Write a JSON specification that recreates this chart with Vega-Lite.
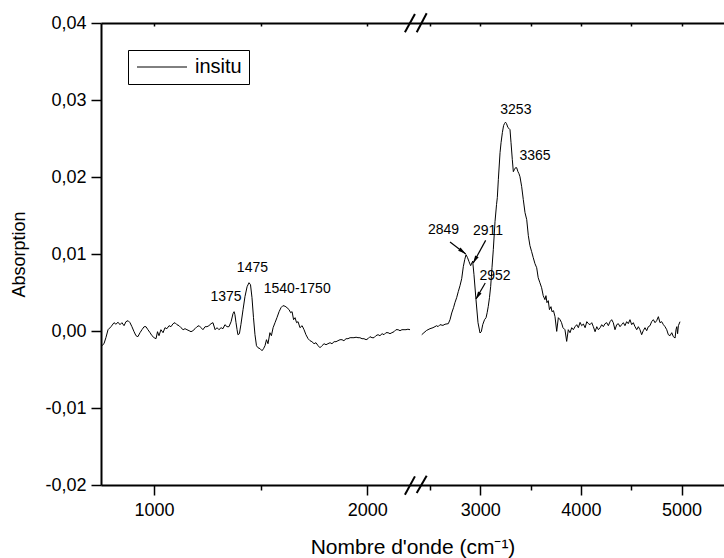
{
  "$schema": "https://vega.github.io/schema/vega-lite/v6.json",
  "width": 623,
  "height": 462,
  "autosize": {"type": "none"},
  "padding": {"left": 101, "top": 23, "right": 0, "bottom": 73},
  "config": {
    "font": "Liberation Sans",
    "view": {"stroke": null},
    "legend": {
      "orient": "none", "legendX": 27, "legendY": 27,
      "strokeColor": "black", "fillColor": "white", "padding": 7,
      "symbolType": "M-5,0L5,0", "symbolSize": 100, "symbolStrokeWidth": 1,
      "symbolStrokeColor": "black", "symbolFillColor": "transparent", "symbolOffset": 17,
      "labelFontSize": 20, "labelFont": "Liberation Sans", "labelColor": "black", "labelOffset": 23
    }
  },
  "datasets": {
    "spec": [
      {"seg":"L","wn":754,"abs":-0.00197},{"seg":"L","wn":766,"abs":-0.00165},{"seg":"L","wn":775,"abs":-0.00087},{"seg":"L","wn":785,"abs":0.00017},{"seg":"L","wn":799,"abs":0.00056},{"seg":"L","wn":813,"abs":0.00108},{"seg":"L","wn":822,"abs":0.00088},{"seg":"L","wn":832,"abs":0.00114},{"seg":"L","wn":841,"abs":0.00082},{"seg":"L","wn":850,"abs":0.00108},{"seg":"L","wn":860,"abs":0.00069},{"seg":"L","wn":869,"abs":0.00121},{"seg":"L","wn":879,"abs":0.00134},{"seg":"L","wn":888,"abs":0.00108},{"seg":"L","wn":897,"abs":0.00056},{"seg":"L","wn":907,"abs":-0.00009},{"seg":"L","wn":916,"abs":-0.00061},{"seg":"L","wn":925,"abs":-0.00074},{"seg":"L","wn":935,"abs":-0.00022},{"seg":"L","wn":944,"abs":0.00017},{"seg":"L","wn":954,"abs":0.00056},{"seg":"L","wn":963,"abs":0.00056},{"seg":"L","wn":972,"abs":0.00017},{"seg":"L","wn":982,"abs":-0.00022},{"seg":"L","wn":991,"abs":-0.00061},{"seg":"L","wn":1001,"abs":-0.00087},{"seg":"L","wn":1010,"abs":-0.001},{"seg":"L","wn":1017,"abs":-0.00009},{"seg":"L","wn":1024,"abs":-0.00061},{"seg":"L","wn":1033,"abs":0.00017},{"seg":"L","wn":1043,"abs":-0.00022},{"seg":"L","wn":1052,"abs":0.00043},{"seg":"L","wn":1061,"abs":0.0003},{"seg":"L","wn":1071,"abs":0.00069},{"seg":"L","wn":1080,"abs":0.00056},{"seg":"L","wn":1090,"abs":0.00095},{"seg":"L","wn":1099,"abs":0.00108},{"seg":"L","wn":1108,"abs":0.00082},{"seg":"L","wn":1118,"abs":0.00069},{"seg":"L","wn":1127,"abs":0.00043},{"seg":"L","wn":1137,"abs":0.00017},{"seg":"L","wn":1146,"abs":0.0003},{"seg":"L","wn":1155,"abs":0.00017},{"seg":"L","wn":1165,"abs":0.00004},{"seg":"L","wn":1174,"abs":-0.00009},{"seg":"L","wn":1183,"abs":0.00004},{"seg":"L","wn":1193,"abs":0.0003},{"seg":"L","wn":1202,"abs":0.00056},{"seg":"L","wn":1212,"abs":0.00069},{"seg":"L","wn":1221,"abs":0.00043},{"seg":"L","wn":1230,"abs":0.00017},{"seg":"L","wn":1240,"abs":0.00056},{"seg":"L","wn":1249,"abs":0.00056},{"seg":"L","wn":1258,"abs":0.00069},{"seg":"L","wn":1268,"abs":0.00095},{"seg":"L","wn":1277,"abs":0.00108},{"seg":"L","wn":1287,"abs":0.00017},{"seg":"L","wn":1296,"abs":0.00043},{"seg":"L","wn":1305,"abs":0.00017},{"seg":"L","wn":1315,"abs":0.00043},{"seg":"L","wn":1324,"abs":0.0003},{"seg":"L","wn":1333,"abs":0.00082},{"seg":"L","wn":1343,"abs":0.00056},{"seg":"L","wn":1352,"abs":0.00056},{"seg":"L","wn":1362,"abs":0.00121},{"seg":"L","wn":1371,"abs":0.00225},{"seg":"L","wn":1376,"abs":0.00251},{"seg":"L","wn":1380,"abs":0.00212},{"seg":"L","wn":1385,"abs":0.00108},{"seg":"L","wn":1390,"abs":0.00017},{"seg":"L","wn":1394,"abs":-0.00048},{"seg":"L","wn":1401,"abs":-0.00035},{"seg":"L","wn":1408,"abs":0.00082},{"seg":"L","wn":1418,"abs":0.00277},{"seg":"L","wn":1427,"abs":0.00446},{"seg":"L","wn":1437,"abs":0.00575},{"seg":"L","wn":1446,"abs":0.00627},{"seg":"L","wn":1453,"abs":0.00601},{"seg":"L","wn":1460,"abs":0.00433},{"seg":"L","wn":1467,"abs":0.00173},{"seg":"L","wn":1474,"abs":-0.00048},{"seg":"L","wn":1481,"abs":-0.00191},{"seg":"L","wn":1488,"abs":-0.00217},{"seg":"L","wn":1498,"abs":-0.0023},{"seg":"L","wn":1507,"abs":-0.00256},{"seg":"L","wn":1514,"abs":-0.0023},{"seg":"L","wn":1521,"abs":-0.00191},{"seg":"L","wn":1528,"abs":-0.00113},{"seg":"L","wn":1535,"abs":-0.00165},{"seg":"L","wn":1544,"abs":-0.00022},{"seg":"L","wn":1551,"abs":-0.00061},{"seg":"L","wn":1559,"abs":0.00043},{"seg":"L","wn":1568,"abs":0.00108},{"seg":"L","wn":1577,"abs":0.00173},{"seg":"L","wn":1587,"abs":0.00251},{"seg":"L","wn":1596,"abs":0.00303},{"seg":"L","wn":1605,"abs":0.00329},{"seg":"L","wn":1615,"abs":0.00322},{"seg":"L","wn":1624,"abs":0.00303},{"seg":"L","wn":1634,"abs":0.00277},{"seg":"L","wn":1641,"abs":0.00238},{"seg":"L","wn":1648,"abs":0.00251},{"seg":"L","wn":1655,"abs":0.00147},{"seg":"L","wn":1662,"abs":0.00173},{"seg":"L","wn":1669,"abs":0.00108},{"seg":"L","wn":1676,"abs":0.00121},{"seg":"L","wn":1685,"abs":0.00043},{"seg":"L","wn":1695,"abs":0.00069},{"seg":"L","wn":1704,"abs":0.00017},{"seg":"L","wn":1713,"abs":-0.00048},{"seg":"L","wn":1723,"abs":-0.001},{"seg":"L","wn":1732,"abs":-0.00126},{"seg":"L","wn":1741,"abs":-0.00139},{"seg":"L","wn":1751,"abs":-0.00165},{"seg":"L","wn":1760,"abs":-0.00152},{"seg":"L","wn":1770,"abs":-0.00191},{"seg":"L","wn":1779,"abs":-0.00217},{"seg":"L","wn":1788,"abs":-0.00191},{"seg":"L","wn":1798,"abs":-0.00165},{"seg":"L","wn":1807,"abs":-0.00178},{"seg":"L","wn":1816,"abs":-0.00165},{"seg":"L","wn":1826,"abs":-0.00152},{"seg":"L","wn":1835,"abs":-0.00165},{"seg":"L","wn":1845,"abs":-0.00139},{"seg":"L","wn":1854,"abs":-0.00139},{"seg":"L","wn":1863,"abs":-0.00126},{"seg":"L","wn":1873,"abs":-0.00113},{"seg":"L","wn":1882,"abs":-0.00113},{"seg":"L","wn":1891,"abs":-0.00126},{"seg":"L","wn":1901,"abs":-0.001},{"seg":"L","wn":1910,"abs":-0.001},{"seg":"L","wn":1920,"abs":-0.00087},{"seg":"L","wn":1929,"abs":-0.00087},{"seg":"L","wn":1938,"abs":-0.00087},{"seg":"L","wn":1948,"abs":-0.00081},{"seg":"L","wn":1957,"abs":-0.00087},{"seg":"L","wn":1966,"abs":-0.00087},{"seg":"L","wn":1976,"abs":-0.001},{"seg":"L","wn":1985,"abs":-0.001},{"seg":"L","wn":1995,"abs":-0.00113},{"seg":"L","wn":2004,"abs":-0.001},{"seg":"L","wn":2013,"abs":-0.00074},{"seg":"L","wn":2023,"abs":-0.00087},{"seg":"L","wn":2032,"abs":-0.00087},{"seg":"L","wn":2041,"abs":-0.00061},{"seg":"L","wn":2051,"abs":-0.00048},{"seg":"L","wn":2060,"abs":-0.00061},{"seg":"L","wn":2070,"abs":-0.00035},{"seg":"L","wn":2079,"abs":-0.00048},{"seg":"L","wn":2088,"abs":-0.00022},{"seg":"L","wn":2098,"abs":-0.00022},{"seg":"L","wn":2107,"abs":-0.00035},{"seg":"L","wn":2116,"abs":-0.00022},{"seg":"L","wn":2126,"abs":-0.00009},{"seg":"L","wn":2135,"abs":0.00017},{"seg":"L","wn":2145,"abs":0.00017},{"seg":"L","wn":2154,"abs":0.00004},{"seg":"L","wn":2163,"abs":0.00017},{"seg":"L","wn":2173,"abs":0.00017},{"seg":"L","wn":2182,"abs":0.00017},{"seg":"L","wn":2191,"abs":0.00023},{"seg":"L","wn":2201,"abs":0.00017},
      {"seg":"R","wn":2419,"abs":-0.00048},{"seg":"R","wn":2441,"abs":-0.00022},{"seg":"R","wn":2468,"abs":0.00008},{"seg":"R","wn":2501,"abs":0.0003},{"seg":"R","wn":2531,"abs":0.00043},{"seg":"R","wn":2568,"abs":0.00069},{"seg":"R","wn":2581,"abs":0.00056},{"seg":"R","wn":2600,"abs":0.00082},{"seg":"R","wn":2630,"abs":0.00073},{"seg":"R","wn":2650,"abs":0.00088},{"seg":"R","wn":2683,"abs":0.00095},{"seg":"R","wn":2700,"abs":0.00147},{"seg":"R","wn":2717,"abs":0.00234},{"seg":"R","wn":2735,"abs":0.00303},{"seg":"R","wn":2749,"abs":0.00368},{"seg":"R","wn":2766,"abs":0.00433},{"seg":"R","wn":2782,"abs":0.00511},{"seg":"R","wn":2799,"abs":0.00588},{"seg":"R","wn":2816,"abs":0.00679},{"seg":"R","wn":2832,"abs":0.00835},{"seg":"R","wn":2846,"abs":0.00926},{"seg":"R","wn":2859,"abs":0.00991},{"seg":"R","wn":2874,"abs":0.00952},{"seg":"R","wn":2889,"abs":0.009},{"seg":"R","wn":2905,"abs":0.00848},{"seg":"R","wn":2925,"abs":0.00907},{"seg":"R","wn":2938,"abs":0.00731},{"seg":"R","wn":2958,"abs":0.00407},{"seg":"R","wn":2978,"abs":0.00108},{"seg":"R","wn":2998,"abs":-0.00026},{"seg":"R","wn":3011,"abs":-0.00009},{"seg":"R","wn":3025,"abs":0.00082},{"seg":"R","wn":3043,"abs":0.00147},{"seg":"R","wn":3058,"abs":0.00173},{"seg":"R","wn":3069,"abs":0.00238},{"seg":"R","wn":3080,"abs":0.0032},{"seg":"R","wn":3092,"abs":0.00433},{"seg":"R","wn":3104,"abs":0.00579},{"seg":"R","wn":3117,"abs":0.00822},{"seg":"R","wn":3130,"abs":0.01056},{"seg":"R","wn":3147,"abs":0.0142},{"seg":"R","wn":3162,"abs":0.01641},{"seg":"R","wn":3170,"abs":0.01732},{"seg":"R","wn":3180,"abs":0.01965},{"seg":"R","wn":3197,"abs":0.02316},{"seg":"R","wn":3207,"abs":0.02446},{"seg":"R","wn":3220,"abs":0.02576},{"seg":"R","wn":3232,"abs":0.02667},{"seg":"R","wn":3241,"abs":0.02693},{"seg":"R","wn":3251,"abs":0.02712},{"seg":"R","wn":3261,"abs":0.02693},{"seg":"R","wn":3276,"abs":0.02641},{"seg":"R","wn":3296,"abs":0.02615},{"seg":"R","wn":3306,"abs":0.02446},{"seg":"R","wn":3319,"abs":0.02225},{"seg":"R","wn":3329,"abs":0.02069},{"seg":"R","wn":3339,"abs":0.02095},{"seg":"R","wn":3351,"abs":0.02121},{"seg":"R","wn":3362,"abs":0.02121},{"seg":"R","wn":3375,"abs":0.02069},{"seg":"R","wn":3385,"abs":0.02043},{"seg":"R","wn":3395,"abs":0.02004},{"seg":"R","wn":3412,"abs":0.01874},{"seg":"R","wn":3428,"abs":0.01706},{"seg":"R","wn":3445,"abs":0.01537},{"seg":"R","wn":3462,"abs":0.01446},{"seg":"R","wn":3478,"abs":0.01238},{"seg":"R","wn":3494,"abs":0.01108},{"seg":"R","wn":3511,"abs":0.0103},{"seg":"R","wn":3527,"abs":0.00952},{"seg":"R","wn":3544,"abs":0.00874},{"seg":"R","wn":3561,"abs":0.00822},{"seg":"R","wn":3576,"abs":0.00692},{"seg":"R","wn":3593,"abs":0.00627},{"seg":"R","wn":3610,"abs":0.00562},{"seg":"R","wn":3626,"abs":0.00459},{"seg":"R","wn":3643,"abs":0.00407},{"seg":"R","wn":3653,"abs":0.00459},{"seg":"R","wn":3663,"abs":0.00368},{"seg":"R","wn":3676,"abs":0.00394},{"seg":"R","wn":3688,"abs":0.00277},{"seg":"R","wn":3703,"abs":0.00316},{"seg":"R","wn":3713,"abs":0.00251},{"seg":"R","wn":3728,"abs":0.00264},{"seg":"R","wn":3743,"abs":0.00186},{"seg":"R","wn":3760,"abs":-0.00005},{"seg":"R","wn":3776,"abs":0.00173},{"seg":"R","wn":3793,"abs":0.00147},{"seg":"R","wn":3808,"abs":0.00108},{"seg":"R","wn":3822,"abs":0.00043},{"seg":"R","wn":3842,"abs":0.00017},{"seg":"R","wn":3859,"abs":-0.00135},{"seg":"R","wn":3875,"abs":0.00017},{"seg":"R","wn":3892,"abs":-0.00022},{"seg":"R","wn":3909,"abs":0.00043},{"seg":"R","wn":3925,"abs":0.00017},{"seg":"R","wn":3942,"abs":0.00056},{"seg":"R","wn":3959,"abs":0.00082},{"seg":"R","wn":3975,"abs":0.00043},{"seg":"R","wn":3992,"abs":0.00112},{"seg":"R","wn":4008,"abs":0.00069},{"seg":"R","wn":4025,"abs":0.00091},{"seg":"R","wn":4042,"abs":0.00043},{"seg":"R","wn":4059,"abs":0.00121},{"seg":"R","wn":4075,"abs":0.00095},{"seg":"R","wn":4091,"abs":0.00082},{"seg":"R","wn":4108,"abs":0.00108},{"seg":"R","wn":4124,"abs":0.00056},{"seg":"R","wn":4141,"abs":-0.00009},{"seg":"R","wn":4158,"abs":0.00056},{"seg":"R","wn":4174,"abs":0.00017},{"seg":"R","wn":4191,"abs":0.00043},{"seg":"R","wn":4207,"abs":0.00082},{"seg":"R","wn":4223,"abs":0.00056},{"seg":"R","wn":4240,"abs":0.00095},{"seg":"R","wn":4257,"abs":0.00108},{"seg":"R","wn":4273,"abs":0.00069},{"seg":"R","wn":4290,"abs":0.00121},{"seg":"R","wn":4306,"abs":0.00147},{"seg":"R","wn":4322,"abs":0.00108},{"seg":"R","wn":4339,"abs":0.00017},{"seg":"R","wn":4356,"abs":0.00082},{"seg":"R","wn":4372,"abs":0.00095},{"seg":"R","wn":4389,"abs":0.00056},{"seg":"R","wn":4405,"abs":0.00082},{"seg":"R","wn":4422,"abs":0.00108},{"seg":"R","wn":4438,"abs":0.00069},{"seg":"R","wn":4455,"abs":0.00121},{"seg":"R","wn":4471,"abs":0.00095},{"seg":"R","wn":4488,"abs":0.00147},{"seg":"R","wn":4505,"abs":0.00082},{"seg":"R","wn":4521,"abs":0.00108},{"seg":"R","wn":4538,"abs":0.00056},{"seg":"R","wn":4555,"abs":0.00017},{"seg":"R","wn":4571,"abs":0.00056},{"seg":"R","wn":4587,"abs":0.00017},{"seg":"R","wn":4604,"abs":-0.00048},{"seg":"R","wn":4620,"abs":0.00004},{"seg":"R","wn":4637,"abs":0.00043},{"seg":"R","wn":4654,"abs":0.00004},{"seg":"R","wn":4670,"abs":0.00056},{"seg":"R","wn":4687,"abs":0.00069},{"seg":"R","wn":4703,"abs":0.00121},{"seg":"R","wn":4720,"abs":0.00147},{"seg":"R","wn":4737,"abs":0.00108},{"seg":"R","wn":4753,"abs":0.00134},{"seg":"R","wn":4770,"abs":0.00186},{"seg":"R","wn":4786,"abs":0.00108},{"seg":"R","wn":4803,"abs":0.00121},{"seg":"R","wn":4820,"abs":0.00082},{"seg":"R","wn":4836,"abs":0.00056},{"seg":"R","wn":4853,"abs":0.00017},{"seg":"R","wn":4869,"abs":-0.00048},{"seg":"R","wn":4886,"abs":-0.00061},{"seg":"R","wn":4903,"abs":-0.00022},{"seg":"R","wn":4919,"abs":-0.00074},{"seg":"R","wn":4936,"abs":-0.00091},{"seg":"R","wn":4945,"abs":0.00017},{"seg":"R","wn":4953,"abs":0.00056},{"seg":"R","wn":4961,"abs":-0.00035},{"seg":"R","wn":4969,"abs":0.00069},{"seg":"R","wn":4985,"abs":0.00121}
    ],
    "labels": [
      {"label":"1375","wn":1338,"abs":0.00446},
      {"label":"1475","wn":1462,"abs":0.00818},
      {"label":"1540-1750","wn":1672,"abs":0.00549},
      {"label":"3253","wn":3354,"abs":0.02875},
      {"label":"3365","wn":3544,"abs":0.02277},
      {"label":"2849","wn":2635,"abs":0.01316},
      {"label":"2911","wn":3077,"abs":0.01303},
      {"label":"2952","wn":3147,"abs":0.00718}
    ],
    "arrows": [
      {"id":"a","wn":2700,"abs":0.01156,"wn2":2856,"abs2":0.0100},
      {"id":"b","wn":3054,"abs":0.01177,"wn2":2931,"abs2":0.00883},
      {"id":"c","wn":3050,"abs":0.00624,"wn2":2958,"abs2":0.00416}
    ],
    "heads": [
      {"id":"a","wn":2824,"abs":0.01033},
      {"id":"b","wn":2948,"abs":0.00924},
      {"id":"c","wn":2976,"abs":0.00455}
    ],
    "breaks": [
      {"wn":2177,"abs":-0.02126,"wn2":2224,"abs2":-0.01888},
      {"wn":2369,"abs":-0.02104,"wn2":2468,"abs2":-0.01879},
      {"wn":2177,"abs":0.03879,"wn2":2224,"abs2":0.04117},
      {"wn":2369,"abs":0.03879,"wn2":2468,"abs2":0.04127}
    ]
  },
  "resolve": {"axis": {"x": "independent"}},
  "layer": [
    {
      "data": {"name": "spec"},
      "mark": {"type": "line", "strokeWidth": 1, "color": "black"},
      "encoding": {
        "x": {
          "field": "wn", "type": "quantitative",
          "scale": {"domain": [752, 2229, 2362, 5422], "range": [0, 315, 315, 623], "nice": false, "zero": false},
          "axis": {
            "orient": "bottom",
            "values": [1000, 1500, 2000, 2500, 3000, 3500, 4000, 4500, 5000],
            "labelExpr": "datum.value % 1000 === 0 ? '' + datum.value : ''",
            "tickSize": {"condition": {"test": "datum.value % 1000 === 0", "value": 10}, "value": 5},
            "tickWidth": 1.5, "tickColor": "black",
            "domainColor": "black", "domainWidth": 2,
            "labelFontSize": 18, "labelPadding": 6, "labelColor": "black",
            "labelFlush": false, "labelOverlap": false, "grid": false,
            "title": "Nombre d'onde (cm⁻¹)", "titleFontSize": 21, "titleFontWeight": "normal",
            "titleColor": "black", "titlePadding": 17
          }
        },
        "y": {
          "field": "abs", "type": "quantitative",
          "scale": {"domain": [-0.02, 0.04], "nice": false, "zero": false},
          "axis": {
            "values": [-0.02, -0.015, -0.01, -0.005, 0, 0.005, 0.01, 0.015, 0.02, 0.025, 0.03, 0.035, 0.04],
            "labelExpr": "round(datum.value*200) % 2 === 0 ? replace(replace(format(datum.value, '.2f'), '.', ','), '\u2212', '-') : ''",
            "tickSize": {"condition": {"test": "round(datum.value*200) % 2 === 0", "value": 10}, "value": 5},
            "tickWidth": 1.5, "tickColor": "black",
            "domainColor": "black", "domainWidth": 2,
            "labelFontSize": 18, "labelPadding": 5, "labelColor": "black",
            "labelFlush": false, "labelOverlap": false, "grid": false,
            "title": "Absorption", "titleFontSize": 18, "titleFontWeight": "normal",
            "titleColor": "black", "titlePadding": 16
          }
        },
        "detail": {"field": "seg", "type": "nominal"},
        "color": {"datum": "insitu", "type": "nominal", "scale": {"range": ["black"]}, "legend": {"title": null}}
      }
    },
    {
      "data": {"name": "breaks"},
      "mark": {"type": "rule", "strokeWidth": 2, "color": "black"},
      "encoding": {
        "x": {
          "field": "wn", "type": "quantitative",
          "axis": {
            "orient": "top",
            "values": [1000, 1500, 2000, 2500, 3000, 3500, 4000, 4500, 5000],
            "labels": false, "tickSize": -3, "tickWidth": 1.5, "tickColor": "black",
            "domainColor": "black", "domainWidth": 2, "grid": false, "title": null
          }
        },
        "y": {"field": "abs", "type": "quantitative"},
        "x2": {"field": "wn2"},
        "y2": {"field": "abs2"}
      }
    },
    {
      "data": {"name": "labels"},
      "mark": {"type": "text", "fontSize": 14, "font": "Liberation Sans", "color": "black", "align": "center", "baseline": "middle"},
      "encoding": {
        "x": {"field": "wn", "type": "quantitative", "axis": null},
        "y": {"field": "abs", "type": "quantitative"},
        "text": {"field": "label", "type": "nominal"}
      }
    },
    {
      "data": {"name": "arrows"},
      "mark": {"type": "rule", "strokeWidth": 1.2, "color": "black"},
      "encoding": {
        "x": {"field": "wn", "type": "quantitative", "axis": null},
        "y": {"field": "abs", "type": "quantitative"},
        "x2": {"field": "wn2"},
        "y2": {"field": "abs2"}
      }
    },
    {
      "data": {"name": "heads"},
      "transform": [{"filter": "datum.id === 'a'"}],
      "mark": {"type": "point", "shape": "M0,-1L0.5,1L-0.5,1Z", "filled": true, "color": "black", "opacity": 1, "size": 64, "angle": 127},
      "encoding": {
        "x": {"field": "wn", "type": "quantitative", "axis": null},
        "y": {"field": "abs", "type": "quantitative"}
      }
    },
    {
      "data": {"name": "heads"},
      "transform": [{"filter": "datum.id === 'b'"}],
      "mark": {"type": "point", "shape": "M0,-1L0.5,1L-0.5,1Z", "filled": true, "color": "black", "opacity": 1, "size": 64, "angle": 209},
      "encoding": {
        "x": {"field": "wn", "type": "quantitative", "axis": null},
        "y": {"field": "abs", "type": "quantitative"}
      }
    },
    {
      "data": {"name": "heads"},
      "transform": [{"filter": "datum.id === 'c'"}],
      "mark": {"type": "point", "shape": "M0,-1L0.5,1L-0.5,1Z", "filled": true, "color": "black", "opacity": 1, "size": 64, "angle": 210},
      "encoding": {
        "x": {"field": "wn", "type": "quantitative", "axis": null},
        "y": {"field": "abs", "type": "quantitative"}
      }
    }
  ]
}
